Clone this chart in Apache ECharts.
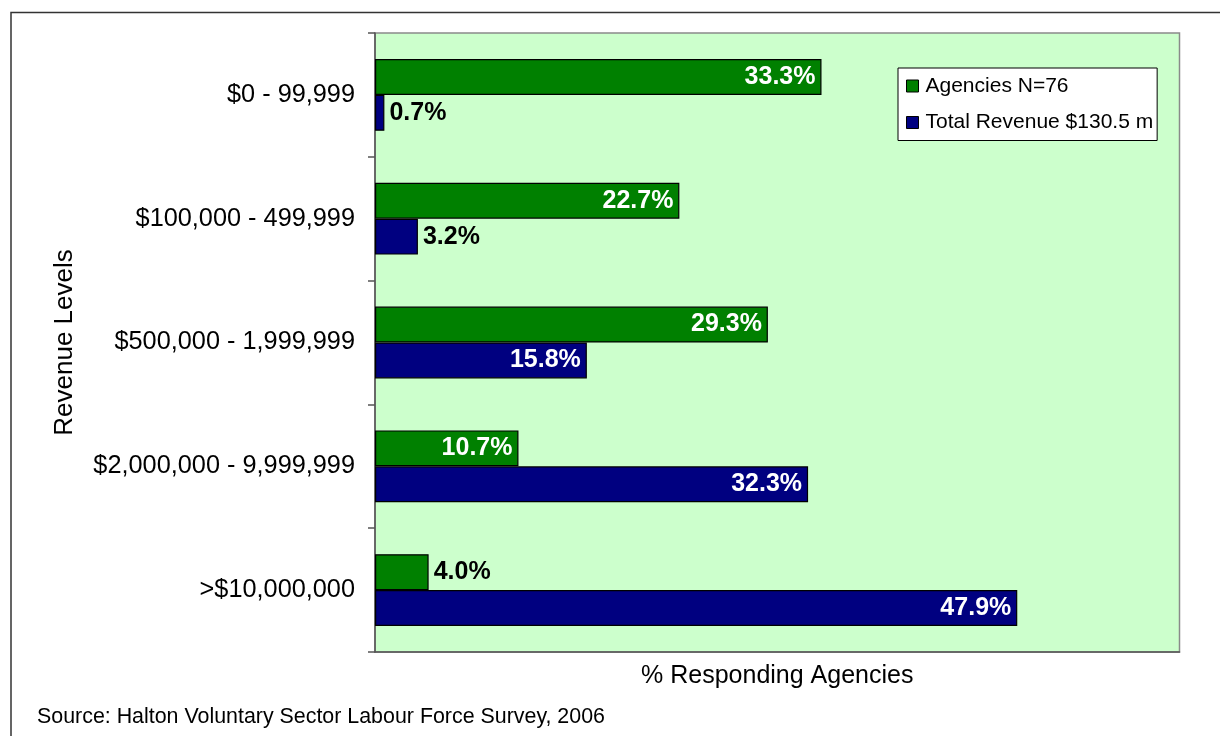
<!DOCTYPE html>
<html>
<head>
<meta charset="utf-8">
<script src="https://cdn.jsdelivr.net/npm/echarts@6/dist/echarts.min.js"></script>
<style>
  html, body { margin: 0; padding: 0; background: #ffffff; }
  #chart { width: 1220px; height: 736px; }
</style>
</head>
<body>
<div id="chart"></div>
<script>
// Revenue bands (top to bottom)
const categories = [
  '$0 - 99,999',
  '$100,000 - 499,999',
  '$500,000 - 1,999,999',
  '$2,000,000 - 9,999,999',
  '>$10,000,000'
];
// Share of agencies in each band (%)
const agencies = [33.3, 22.7, 29.3, 10.7, 4.0];
// Share of total revenue in each band (%)
const revenue = [0.7, 3.2, 15.8, 32.3, 47.9];

const seriesNames = ['Agencies N=76', 'Total Revenue $130.5 m'];
const xAxisTitle = '% Responding Agencies';
const yAxisTitle = 'Revenue Levels';
const sourceNote = 'Source: Halton Voluntary Sector Labour Force Survey, 2006';

const FONT = '"Liberation Sans", Arial, Helvetica, sans-serif';

// Short bars get their value label outside in black, long bars inside in white
function withLabels(values) {
  return values.map(function (v) {
    const fits = v >= 8;
    return {
      value: v,
      label: fits
        ? { position: 'insideRight', distance: 6, color: '#ffffff' }
        : { position: 'right', distance: 5, color: '#000000' }
    };
  });
}

const labelBase = {
  show: true,
  fontFamily: FONT,
  fontSize: 25,
  fontWeight: 'bold',
  formatter: function (p) { return p.value.toFixed(1) + '%'; }
};

const chart = echarts.init(document.getElementById('chart'), null, { renderer: 'canvas' });

chart.setOption({
  backgroundColor: '#ffffff',
  animation: false,
  textStyle: { fontFamily: FONT },
  grid: {
    left: 375, top: 33, right: 40.5, bottom: 84,
    show: true,
    backgroundColor: '#CCFFCC',
    borderColor: '#8a8a8a',
    borderWidth: 1.5
  },
  legend: {
    orient: 'vertical',
    left: 898, top: 68,
    padding: [6, 4, 6, 8],
    itemGap: 12.5,
    itemWidth: 12, itemHeight: 12,
    backgroundColor: '#ffffff',
    borderColor: '#000000',
    borderWidth: 1,
    borderRadius: 0,
    icon: 'rect',
    itemStyle: { borderColor: '#000000', borderWidth: 1 },
    textStyle: { fontFamily: FONT, fontSize: 21, color: '#000000', lineHeight: 24, padding: [0, 0, 0, 2] },
    data: seriesNames
  },
  xAxis: {
    type: 'value',
    min: 0, max: 60, interval: 10,
    name: xAxisTitle,
    nameLocation: 'middle',
    nameGap: 12,
    nameTextStyle: { fontFamily: FONT, fontSize: 25, color: '#000000' },
    axisLine: { show: true, lineStyle: { color: '#555555', width: 1.5 } },
    axisTick: { show: false },
    axisLabel: { show: false },
    splitLine: { show: false }
  },
  yAxis: {
    type: 'category',
    inverse: true,
    data: categories,
    name: yAxisTitle,
    nameLocation: 'middle',
    nameGap: 297,
    nameTextStyle: { fontFamily: FONT, fontSize: 26, color: '#000000' },
    axisLine: { show: true, lineStyle: { color: '#555555', width: 1.5 } },
    axisTick: { show: true, length: 7, lineStyle: { color: '#555555', width: 1.5 } },
    axisLabel: { fontFamily: FONT, fontSize: 25.3, color: '#000000', margin: 20 }
  },
  series: [
    {
      name: seriesNames[0],
      type: 'bar',
      data: withLabels(agencies),
      barGap: '0%',
      barCategoryGap: '42%',
      itemStyle: { color: '#008000', borderColor: '#000000', borderWidth: 1.2 },
      label: labelBase
    },
    {
      name: seriesNames[1],
      type: 'bar',
      data: withLabels(revenue),
      barGap: '0%',
      barCategoryGap: '42%',
      itemStyle: { color: '#000080', borderColor: '#000000', borderWidth: 1.2 },
      label: labelBase
    }
  ],
  graphic: [
    {
      type: 'rect',
      silent: true,
      z: -1,
      shape: { x: 11, y: 12.5, width: 1240, height: 760 },
      style: { fill: null, stroke: '#333333', lineWidth: 1.5 }
    },
    {
      type: 'text',
      left: 37, top: 707,
      style: { text: sourceNote, font: '21.4px ' + FONT, fill: '#000000' }
    }
  ]
});
</script>
</body>
</html>
